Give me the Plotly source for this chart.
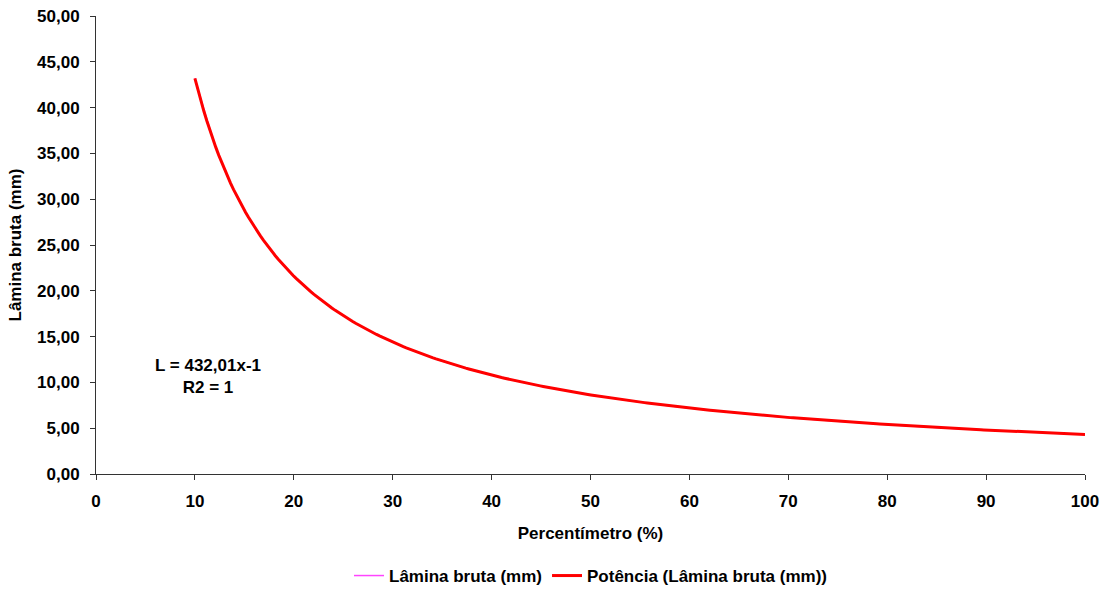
import numpy as np
import plotly.graph_objects as go

# Percentímetro setting (%) and gross irrigation depth (mm)
percentimetro = [10, 12.5, 15, 17.5, 20, 25, 30, 35, 40, 45, 50, 55,
                 60, 65, 70, 75, 80, 85, 90, 95, 100]
lamina_bruta = [43.20, 34.56, 28.80, 24.69, 21.60, 17.28, 14.40, 12.34, 10.80, 9.60, 8.64, 7.85,
                7.20, 6.65, 6.17, 5.76, 5.40, 5.08, 4.80, 4.55, 4.32]

# Power trendline L = a * x^b
coef_a = 432.01
expo_b = -1.0
trend_x = np.linspace(min(percentimetro), max(percentimetro), 300)
trend_y = coef_a * trend_x ** expo_b

x_ticks = [0, 10, 20, 30, 40, 50, 60, 70, 80, 90, 100]
y_ticks = [0, 5, 10, 15, 20, 25, 30, 35, 40, 45, 50]

FONT = "Liberation Sans, Arial, sans-serif"
FS = 17
bold = dict(family=FONT, size=FS, color="black", weight="bold")

fig = go.Figure()
fig.add_trace(go.Scatter(
    x=percentimetro, y=lamina_bruta, mode="lines",
    name="Lâmina bruta (mm)",
    line=dict(color="#FF44FF", width=1.5, shape="spline"),
))
fig.add_trace(go.Scatter(
    x=trend_x, y=trend_y, mode="lines",
    name="Potência (Lâmina bruta (mm))",
    line=dict(color="#FF0000", width=3),
))

fig.add_annotation(
    x=11.3, y=10.6, xref="x", yref="y",
    text="L = 432,01x-1<br>R2 = 1",
    showarrow=False, align="center",
    font=bold,
)

axis_common = dict(
    showgrid=False, zeroline=False, showline=True,
    linecolor="#333333", linewidth=1,
    ticks="outside", ticklen=5, tickcolor="#333333",
    tickfont=bold,
    ticklabelstandoff=7,
    automargin=False,
)

fig.update_xaxes(
    range=[0, 100], tickvals=x_ticks,
    title=dict(text="Percentímetro (%)", font=bold, standoff=16),
    **axis_common,
)
fig.update_yaxes(
    range=[0, 50], tickvals=y_ticks, tickformat=".2f",
    title=dict(text="Lâmina bruta (mm)", font=bold, standoff=11),
    **axis_common,
)

fig.update_layout(
    width=1107, height=590,
    margin=dict(l=96, r=22, t=16, b=116, autoexpand=False),
    plot_bgcolor="white", paper_bgcolor="white",
    separators=", ",
    font=bold,
    showlegend=True,
    legend=dict(
        orientation="h", x=0.5, xanchor="center",
        y=-0.2227, yanchor="middle",
        font=bold, itemwidth=30,
    ),
)

fig.write_html("out.html")
